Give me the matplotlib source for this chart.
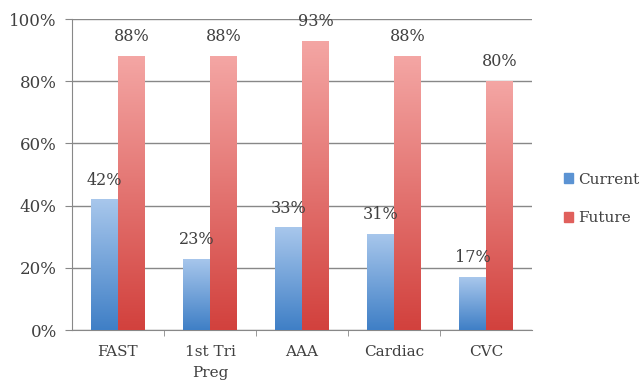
import numpy as np
import matplotlib
matplotlib.use("Agg")
import matplotlib.pyplot as plt
from matplotlib.colors import LinearSegmentedColormap

plt.rcParams['font.family'] = ['DejaVu Serif']

categories = ["FAST", "1st Tri\nPreg", "AAA", "Cardiac", "CVC"]
current = [42, 23, 33, 31, 17]
future = [88, 88, 93, 88, 80]
series_names = ["Current", "Future"]

blue_cmap = LinearSegmentedColormap.from_list("blue", ["#3f7fc6", "#a8c7ec"])
red_cmap = LinearSegmentedColormap.from_list("red", ["#d2413d", "#f4a6a4"])
txt = "#404040"

fig = plt.figure(figsize=(6.42, 3.88), dpi=100)
ax = fig.add_axes([0.112, 0.149, 0.717, 0.802])

x = np.arange(len(categories))
w = 0.29


def gradient_bars(xs, vals, cmap, color):
    bars = ax.bar(xs, vals, w, color=color, zorder=2)
    grad = np.linspace(0, 1, 256).reshape(-1, 1)
    for b in bars:
        x0, y0 = b.get_x(), b.get_y()
        im = ax.imshow(grad, cmap=cmap, aspect='auto', origin='lower',
                       extent=[x0, x0 + b.get_width(), y0, y0 + b.get_height()],
                       zorder=3)
        im.set_clip_path(b)
    return bars


gradient_bars(x - w / 2, current, blue_cmap, "#6a9fd8")
gradient_bars(x + w / 2, future, red_cmap, "#e47672")

for xi, v in zip(x - w / 2, current):
    ax.text(xi, v + 3.5, f"{v}%", ha='center', va='bottom', fontsize=11.5, color=txt)
for xi, v in zip(x + w / 2, future):
    ax.text(xi, v + 3.5, f"{v}%", ha='center', va='bottom', fontsize=11.5, color=txt)

ax.set_xlim(-0.5, len(categories) - 0.5)
ax.set_ylim(0, 100)
ax.set_yticks(range(0, 101, 20))
ax.set_yticklabels([f"{t}%" for t in range(0, 101, 20)], fontsize=12, color=txt)
ax.set_xticks(x)
ax.set_xticklabels(categories, fontsize=11, color=txt, linespacing=1.55)
ax.set_xticks(np.arange(0.5, len(categories) - 0.5, 1), minor=True)
ax.tick_params(axis='x', which='major', length=0, pad=11)
ax.tick_params(axis='x', which='minor', length=4, color="#888888")
ax.tick_params(axis='y', length=5, color="#888888", pad=6)

ax.yaxis.grid(True, color="#888888", linewidth=1.0, zorder=0)
ax.set_axisbelow(True)
for s in ["top", "right"]:
    ax.spines[s].set_visible(False)
ax.spines["left"].set_color("#888888")
ax.spines["bottom"].set_color("#888888")

# legend with small square swatches
handles = [plt.Rectangle((0, 0), 1, 1, color="#5b93d3"),
           plt.Rectangle((0, 0), 1, 1, color="#e0605c")]
fig.legend(handles, series_names, loc='upper left', bbox_to_anchor=(0.878, 0.555),
           frameon=False, fontsize=11, handlelength=0.6, handleheight=0.6,
           handletextpad=0.35, labelspacing=1.6, borderpad=0, borderaxespad=0,
           labelcolor=txt)

fig.savefig("out.png", dpi=100)
